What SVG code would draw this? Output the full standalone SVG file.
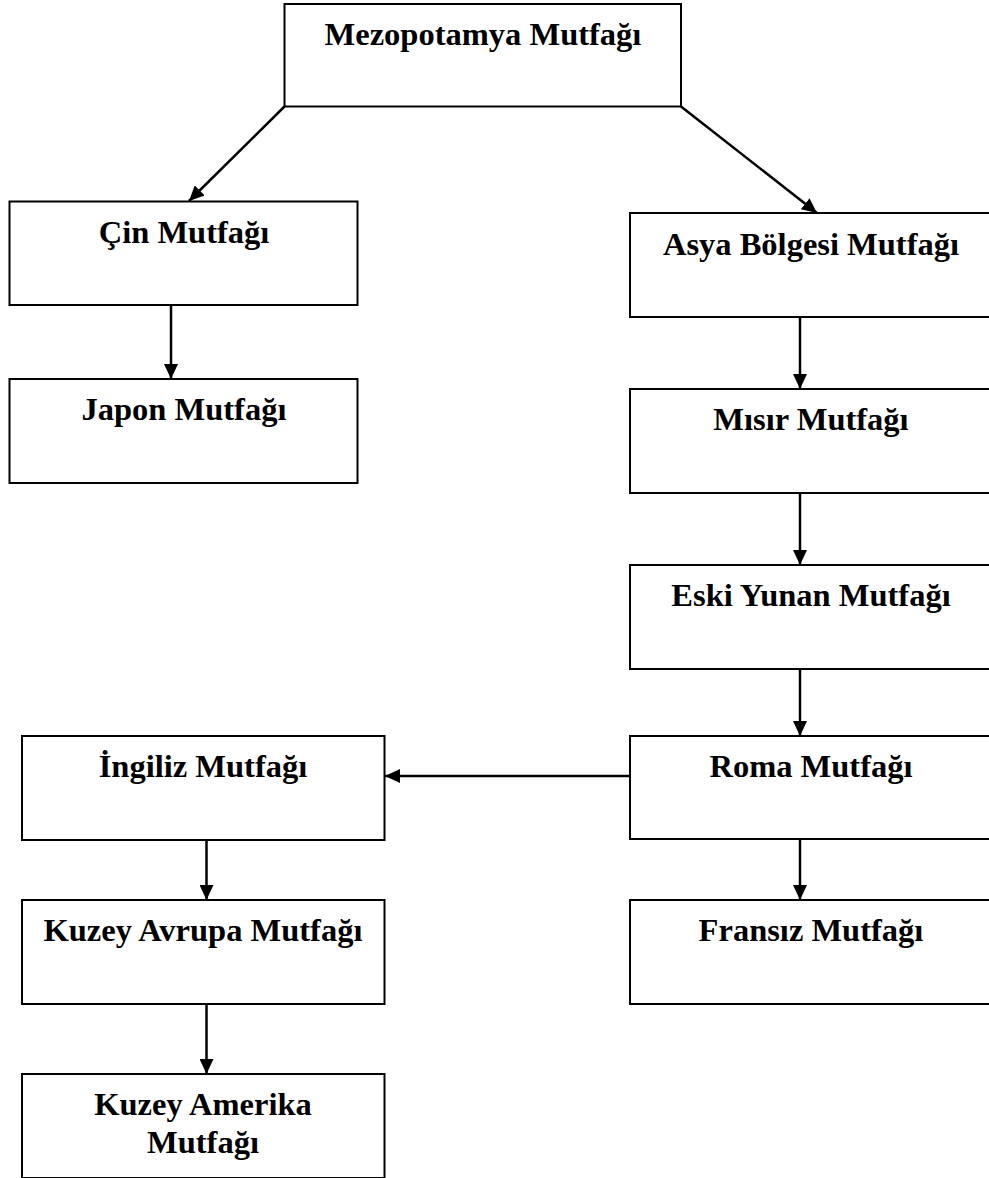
<svg xmlns="http://www.w3.org/2000/svg" width="989" height="1178" viewBox="0 0 989 1178">
<style>
rect.box{fill:#fff;stroke:#000;stroke-width:2}
text{font-family:"Liberation Serif","Times New Roman",serif;font-weight:bold;font-size:32.5px;fill:#000;text-anchor:middle}
.conn line{stroke:#000;stroke-width:2.5;marker-end:url(#ah)}
</style>
<defs>
<marker id="ah" markerUnits="userSpaceOnUse" markerWidth="15" markerHeight="14" refX="15" refY="7" orient="auto">
<path d="M0,0 L15,7 L0,14 z" fill="#000"/>
</marker>
</defs>
<rect width="989" height="1178" fill="#fff"/>
<g id="n-mezopotamya"><rect class="box" x="284.5" y="4" width="396.5" height="102.5"/><text x="483" y="45">Mezopotamya Mutfağı</text></g>
<g id="n-cin"><rect class="box" x="9.5" y="201.5" width="348" height="103.5"/><text x="184" y="243">Çin Mutfağı</text></g>
<g id="n-japon"><rect class="box" x="9.5" y="379" width="348" height="104"/><text x="184" y="420">Japon Mutfağı</text></g>
<g id="n-asya"><rect class="box" x="630" y="213" width="362" height="104"/><text x="811" y="255">Asya Bölgesi Mutfağı</text></g>
<g id="n-misir"><rect class="box" x="630" y="389" width="362" height="104"/><text x="811" y="430">Mısır Mutfağı</text></g>
<g id="n-eskiyunan"><rect class="box" x="630" y="565" width="362" height="104"/><text x="811" y="606">Eski Yunan Mutfağı</text></g>
<g id="n-roma"><rect class="box" x="630" y="736" width="362" height="103"/><text x="811" y="777">Roma Mutfağı</text></g>
<g id="n-fransiz"><rect class="box" x="630" y="900" width="362" height="104"/><text x="811" y="941">Fransız Mutfağı</text></g>
<g id="n-ingiliz"><rect class="box" x="22" y="736" width="362.5" height="104"/><text x="203" y="777">İngiliz Mutfağı</text></g>
<g id="n-kuzeyavrupa"><rect class="box" x="22" y="900" width="362.5" height="104"/><text x="203" y="941">Kuzey Avrupa Mutfağı</text></g>
<g id="n-kuzeyamerika"><rect class="box" x="22" y="1074" width="362.5" height="104"/><text x="203" y="1115">Kuzey Amerika</text><text x="203" y="1153">Mutfağı</text></g>
<g id="connectors" class="conn">
<line x1="284.5" y1="106.5" x2="189" y2="201"/>
<line x1="681" y1="106.5" x2="817" y2="213"/>
<line x1="171" y1="305" x2="171" y2="379"/>
<line x1="800" y1="317" x2="800" y2="389"/>
<line x1="800" y1="493" x2="800" y2="565"/>
<line x1="800" y1="669" x2="800" y2="736"/>
<line x1="800" y1="839" x2="800" y2="900"/>
<line x1="630" y1="776" x2="385" y2="776"/>
<line x1="206.5" y1="840" x2="206.5" y2="900"/>
<line x1="206.5" y1="1004" x2="206.5" y2="1074"/>
</g>
</svg>
